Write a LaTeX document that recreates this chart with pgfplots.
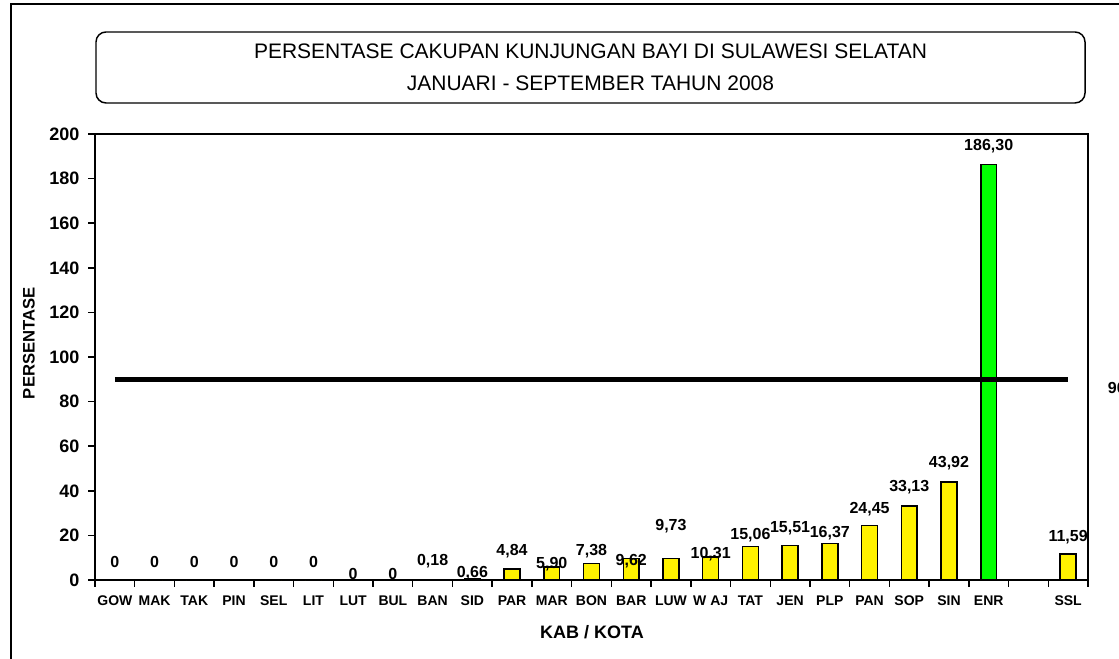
\documentclass[border=0pt]{standalone}
\usepackage{fontspec}
\setmainfont{Liberation Sans}
\usepackage{pgfplots}
\usepackage{pgfplotstable}
\pgfplotsset{compat=1.18}

\pgfplotstableread{
x val
0 0
1 0
2 0
3 0
4 0
5 0
6 0
7 0
8 0.18
9 0.66
10 4.84
11 5.90
12 7.38
13 9.62
14 9.73
15 10.31
16 15.06
17 15.51
18 16.37
19 24.45
20 33.13
21 43.92
24 11.59
}\bars

\pgfplotstableread{
x val
22 186.30
}\enr

\pgfplotstableread{
x ly lab
0 8.07 0
1 8.07 0
2 8.07 0
3 8.07 0
4 8.07 0
5 8.07 0
6 2.69 0
7 2.69 0
8 8.3 0,18
9 3.1 0,66
10 13.0 4,84
11 7.2 5,90
12 13.0 7,38
13 8.5 9,62
14 24.2 9,73
15 11.7 10,31
16 20.2 15,06
17 23.3 15,51
18 21.1 16,37
19 31.8 24,45
20 41.7 33,13
21 52.5 43,92
22 194.6 186,30
24 19.3 11,59
}\labels

\begin{document}
\begin{tikzpicture}
\path[use as bounding box] (0,0) rectangle (839.25pt,-494.25pt);
\clip (0,0) rectangle (839.25pt,-494.25pt);
\draw[line width=1.5pt] (850pt,-3pt) -- (8.25pt,-3pt) -- (8.25pt,-500pt);
\begin{axis}[
  at={(71.25pt,-435pt)}, anchor=south west,
  scale only axis, width=744.75pt, height=334.5pt,
  xmin=-0.5, xmax=24.5, ymin=0, ymax=200,
  clip=false,
  ytick={0,20,40,60,80,100,120,140,160,180,200},
  xtick={-0.5,0.5,1.5,2.5,3.5,4.5,5.5,6.5,7.5,8.5,9.5,10.5,11.5,12.5,13.5,14.5,15.5,16.5,17.5,18.5,19.5,20.5,21.5,22.5,23.5,24.5},
  x tick label as interval,
  xticklabels={GOW,MAK,TAK,PIN,SEL,LIT,LUT,BUL,BAN,SID,PAR,MAR,BON,BAR,LUW,W AJ,TAT,JEN,PLP,PAN,SOP,SIN,ENR,,SSL},
  tick align=outside, tick pos=left,
  major tick length=5pt,
  tick style={black, line width=1.1pt},
  axis line style={black, line width=1.5pt},
  /pgf/number format/assume math mode=true,
  yticklabel style={font=\fontsize{13.5}{16}\selectfont\bfseries, anchor=east, inner sep=0pt, xshift=-6.5pt},
  xticklabel style={font=\fontsize{10.5}{12}\selectfont\bfseries, anchor=north, inner sep=0pt, yshift=-6.5pt},
  xlabel={KAB / KOTA},
  ylabel={PERSENTASE},
  every axis x label/.style={at={(axis description cs:0.5005,-0.1166)}, anchor=center, font=\fontsize{13.5}{16}\selectfont\bfseries},
  every axis y label/.style={at={(axis description cs:-0.0665,0.531)}, rotate=90, anchor=center, font=\fontsize{12.5}{15}\selectfont\bfseries},
  title={PERSENTASE CAKUPAN KUNJUNGAN BAYI DI SULAWESI SELATAN\\JANUARI - SEPTEMBER TAHUN 2008},
  title style={at={(axis description cs:0.499,1.1312)}, anchor=center, draw, line width=1.1pt, rounded corners=7.5pt, minimum width=741.75pt, minimum height=53.25pt, align=center, font=\fontsize{15.75}{24}\selectfont, inner sep=0pt},
]
\addplot[ybar, bar width=0.4, bar shift=0pt, fill=yellow, draw=black, line width=1.1pt] table[x=x, y=val] {\bars};
\addplot[ybar, bar width=0.4, bar shift=0pt, fill=green, draw=black, line width=1.1pt] table[x=x, y=val] {\enr};
\addplot[draw=none, mark=none, nodes near coords, point meta=explicit symbolic, nodes near coords align=center,
  every node near coord/.append style={font=\fontsize{12}{14}\selectfont\bfseries, inner sep=0pt, anchor=center}]
  table[x=x, y=ly, meta=lab] {\labels};
\addplot[black, line width=3.75pt] coordinates {(0,90) (24,90)}
  node[pos=1, anchor=west, xshift=28pt, yshift=-6.75pt, font=\fontsize{12}{14}\selectfont\bfseries, inner sep=0pt] {90};
\end{axis}
\end{tikzpicture}
\end{document}
